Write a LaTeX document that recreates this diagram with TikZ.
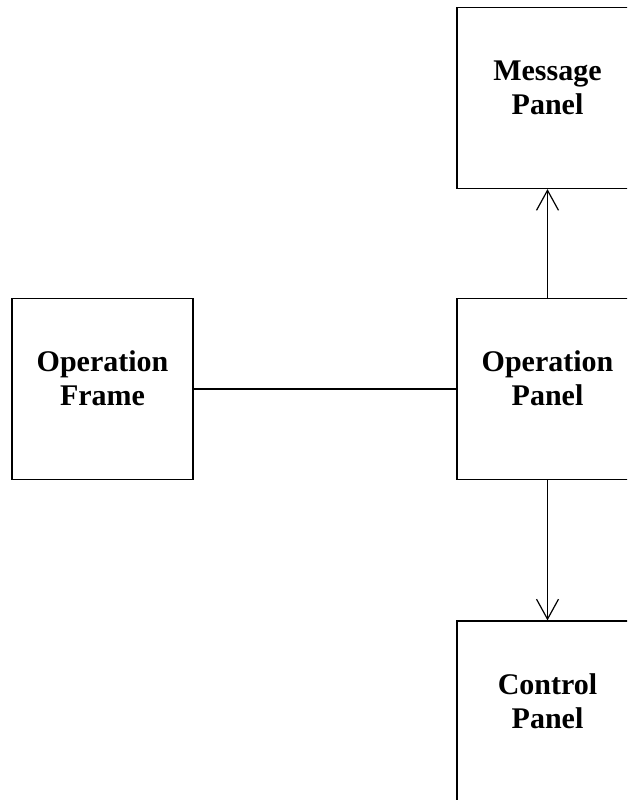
\documentclass[tikz,border=0pt]{standalone}
\usepackage{fontspec}
\setmainfont{Liberation Serif}
\usetikzlibrary{arrows.meta}

\tikzset{
  panel/.style={draw, line width=1.2pt, minimum width=181pt, minimum height=181pt,
    align=center, text depth=21pt, font=\fontsize{30}{34}\selectfont\bfseries},
  link/.style={line width=1.2pt},
  arr/.style={line width=1.2pt, -{Straight Barb[length=20pt,width=22pt,line width=1.2pt]}}
}

\begin{document}
\begin{tikzpicture}[x=1pt,y=1pt]
  \useasboundingbox (0,0) rectangle (627,800);
  \clip (0,0) rectangle (627,800);

  %% boxes
  \node[panel] (message) at (547.5,702) {Message\\Panel};
  \node[panel] (opframe) at (102.5,411) {Operation\\Frame};
  \node[panel] (oppanel) at (547.5,411) {Operation\\Panel};
  \node[panel] (control) at (547.5,88.5) {Control\\Panel};

  %% links
  \draw[link] (opframe) -- (oppanel);
  \draw[arr] (oppanel) -- (message);
  \draw[arr] (oppanel) -- (control);

\end{tikzpicture}
\end{document}
